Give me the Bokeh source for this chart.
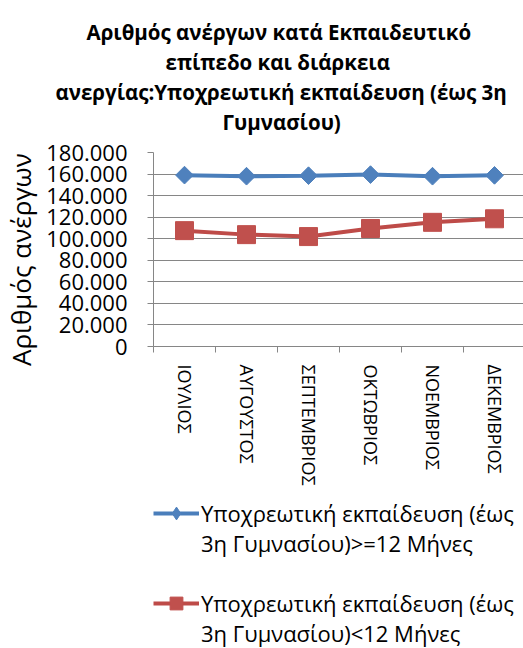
import math
from bokeh.plotting import figure
from bokeh.layouts import column
from bokeh.models import (Range1d, FixedTicker, Legend, LegendItem, CustomJSTickFormatter, Title)
from bokeh.embed import file_html
from bokeh.resources import INLINE

months = ["ΙΟΥΛΙΟΣ", "ΑΥΓΟΥΣΤΟΣ", "ΣΕΠΤΕΜΒΡΙΟΣ", "ΟΚΤΩΒΡΙΟΣ", "ΝΟΕΜΒΡΙΟΣ", "ΔΕΚΕΜΒΡΙΟΣ"]
long_term = [159000, 158000, 158500, 159500, 158000, 158800]
short_term = [107500, 103800, 102000, 109500, 115200, 118500]
y_ticks = [0, 20000, 40000, 60000, 80000, 100000, 120000, 140000, 160000, 180000]
title_lines = ["Αριθμός ανέργων κατά  Εκπαιδευτικό",
               "επίπεδο και διάρκεια",
               "ανεργίας:Υποχρεωτική εκπαίδευση (έως 3η",
               "Γυμνασίου)"]
y_title = "Αριθμός ανέργων"
label_long = "Υποχρεωτική εκπαίδευση (έως\n3η Γυμνασίου)>=12 Μήνες"
label_short = "Υποχρεωτική εκπαίδευση (έως\n3η Γυμνασίου)<12 Μήνες"

FONT = "Open Sans"
GRID = "#868686"
BLUE = "#4A7EBB"
BLUE_M = "#4F81BD"
RED = "#BE4B48"
RED_M = "#C0504D"

W = 523
MAIN_H = 500
LEG_H = 648 - MAIN_H

xs = list(range(1, len(months) + 1))

p = figure(output_backend="svg", toolbar_location=None,
           frame_width=372, frame_height=194,
           min_border_left=151, min_border_right=0, min_border_top=152,
           min_border_bottom=MAIN_H - 152 - 194,
           x_range=Range1d(0.5, len(months) + 0.5), y_range=Range1d(0, 180000))
p.outline_line_color = None

# spacer between frame and title block
p.add_layout(Title(text="\u00a0", text_font=FONT, text_font_size="11px", standoff=0), "above")
# title lines: first added sits closest to the frame
title_offsets = [-67, 12, -98, 69]
for i in reversed(range(len(title_lines))):
    t = Title(text=title_lines[i], align="left", offset=title_offsets[i],
              text_font=FONT, text_font_size="20.5px", text_font_style="bold",
              text_color="black", standoff=0)
    p.add_layout(t, "above")

p.yaxis.ticker = FixedTicker(ticks=y_ticks)
p.yaxis.formatter = CustomJSTickFormatter(code="""
    return tick == 0 ? '0' : (tick/1000).toFixed(0) + '.000';
""")
p.yaxis.major_label_text_font = FONT
p.yaxis.major_label_text_font_size = "22px"
p.yaxis.major_label_text_color = "black"
p.yaxis.axis_label = y_title + "\u00a0" * 3
p.yaxis.axis_label_text_font = FONT
p.yaxis.axis_label_text_font_size = "26px"
p.yaxis.axis_label_text_font_style = "normal"
p.yaxis.axis_label_text_color = "black"
p.yaxis.axis_label_standoff = 4
p.yaxis.axis_line_color = GRID
p.yaxis.major_tick_line_color = GRID
p.yaxis.major_tick_out = 6
p.yaxis.major_tick_in = 0
p.yaxis.minor_tick_line_color = None
p.yaxis.major_label_standoff = 20

p.xaxis.ticker = FixedTicker(ticks=xs, minor_ticks=[x - 0.5 for x in xs] + [len(xs) + 0.5])
p.xaxis.major_label_overrides = {x: m for x, m in zip(xs, months)}
p.xaxis.major_label_orientation = "vertical"
p.xaxis.major_label_text_font = FONT
p.xaxis.major_label_text_font_size = "18px"
p.xaxis.major_label_text_color = "black"
p.xaxis.major_label_standoff = 12
p.xaxis.axis_line_color = GRID
p.xaxis.major_tick_line_color = None
p.xaxis.major_tick_out = 0
p.xaxis.major_tick_in = 0
p.xaxis.minor_tick_line_color = GRID
p.xaxis.minor_tick_out = 6
p.xaxis.minor_tick_in = 0

p.xgrid.grid_line_color = None
p.ygrid.grid_line_color = GRID
p.ygrid.grid_line_width = 1

p.line(xs, long_term, line_color=BLUE, line_width=4)
p.scatter(xs, long_term, marker="square", angle=math.pi / 4, size=12.5,
          fill_color=BLUE_M, line_color=BLUE_M)
p.line(xs, short_term, line_color=RED, line_width=4)
p.scatter(xs, short_term, marker="square", size=18, fill_color=RED_M, line_color=RED_M)

# ---- legend block (its own plot; series kept outside its visible range) ----
lp = figure(output_backend="svg", toolbar_location=None, width=W, height=LEG_H,
            x_range=Range1d(-100, -99), y_range=Range1d(-100, -99),
            x_axis_location=None, y_axis_location=None,
            min_border_left=0, min_border_right=0, min_border_top=0, min_border_bottom=0)
lp.grid.visible = False
lp.outline_line_color = None
k1 = lp.line(xs, long_term, line_color=BLUE, line_width=4)
s1 = lp.scatter(xs, long_term, marker="diamond", size=14, fill_color=BLUE_M, line_color=BLUE_M)
k2 = lp.line(xs, short_term, line_color=RED, line_width=4)
s2 = lp.scatter(xs, short_term, marker="square", size=15, fill_color=RED_M, line_color=RED_M)
legend = Legend(items=[LegendItem(label="\u00a0\n" + label_long, renderers=[k1, s1]),
                       LegendItem(label="\u00a0\n" + label_short, renderers=[k2, s2])],
                location=(0, 0), orientation="vertical",
                label_text_font=FONT, label_text_font_size="22px",
                label_text_line_height=1.45,
                label_text_color="black", glyph_width=46, glyph_height=32,
                spacing=-16, border_line_color=None, background_fill_alpha=0,
                label_standoff=2, padding=0, margin=0)
lp.add_layout(legend, "center")

layout = column(p, lp, spacing=0)
open("out.html", "w").write(file_html(layout, INLINE))
